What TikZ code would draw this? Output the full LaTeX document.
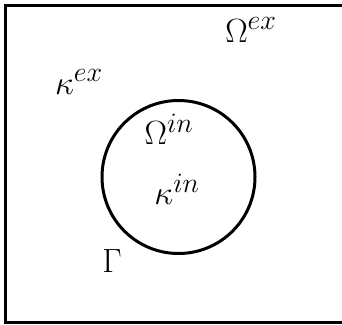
\documentclass[tikz,border=0pt]{standalone}
\begin{document}
\begin{tikzpicture}[x=1pt,y=-1pt,
  lbl/.style={inner sep=0pt,font=\Huge,scale=1.35}]
\useasboundingbox (0,0) rectangle (342,324);
\clip (0,0) rectangle (342,324);
\draw[line width=3pt] (5.5,5.5) rectangle (348,322.5);
\draw[line width=3pt] (178.5,177) circle[radius=76.5];
\node[lbl] (oex) at (251,30) {$\Omega^{ex}$};
\node[lbl] (kex) at (79,82) {$\kappa^{ex}$};
\node[lbl] (oin) at (169,129) {$\Omega^{in}$};
\node[lbl] (kin) at (177,189) {$\kappa^{in}$};
\node[lbl] (g) at (112,261) {$\Gamma$};
\end{tikzpicture}
\end{document}
